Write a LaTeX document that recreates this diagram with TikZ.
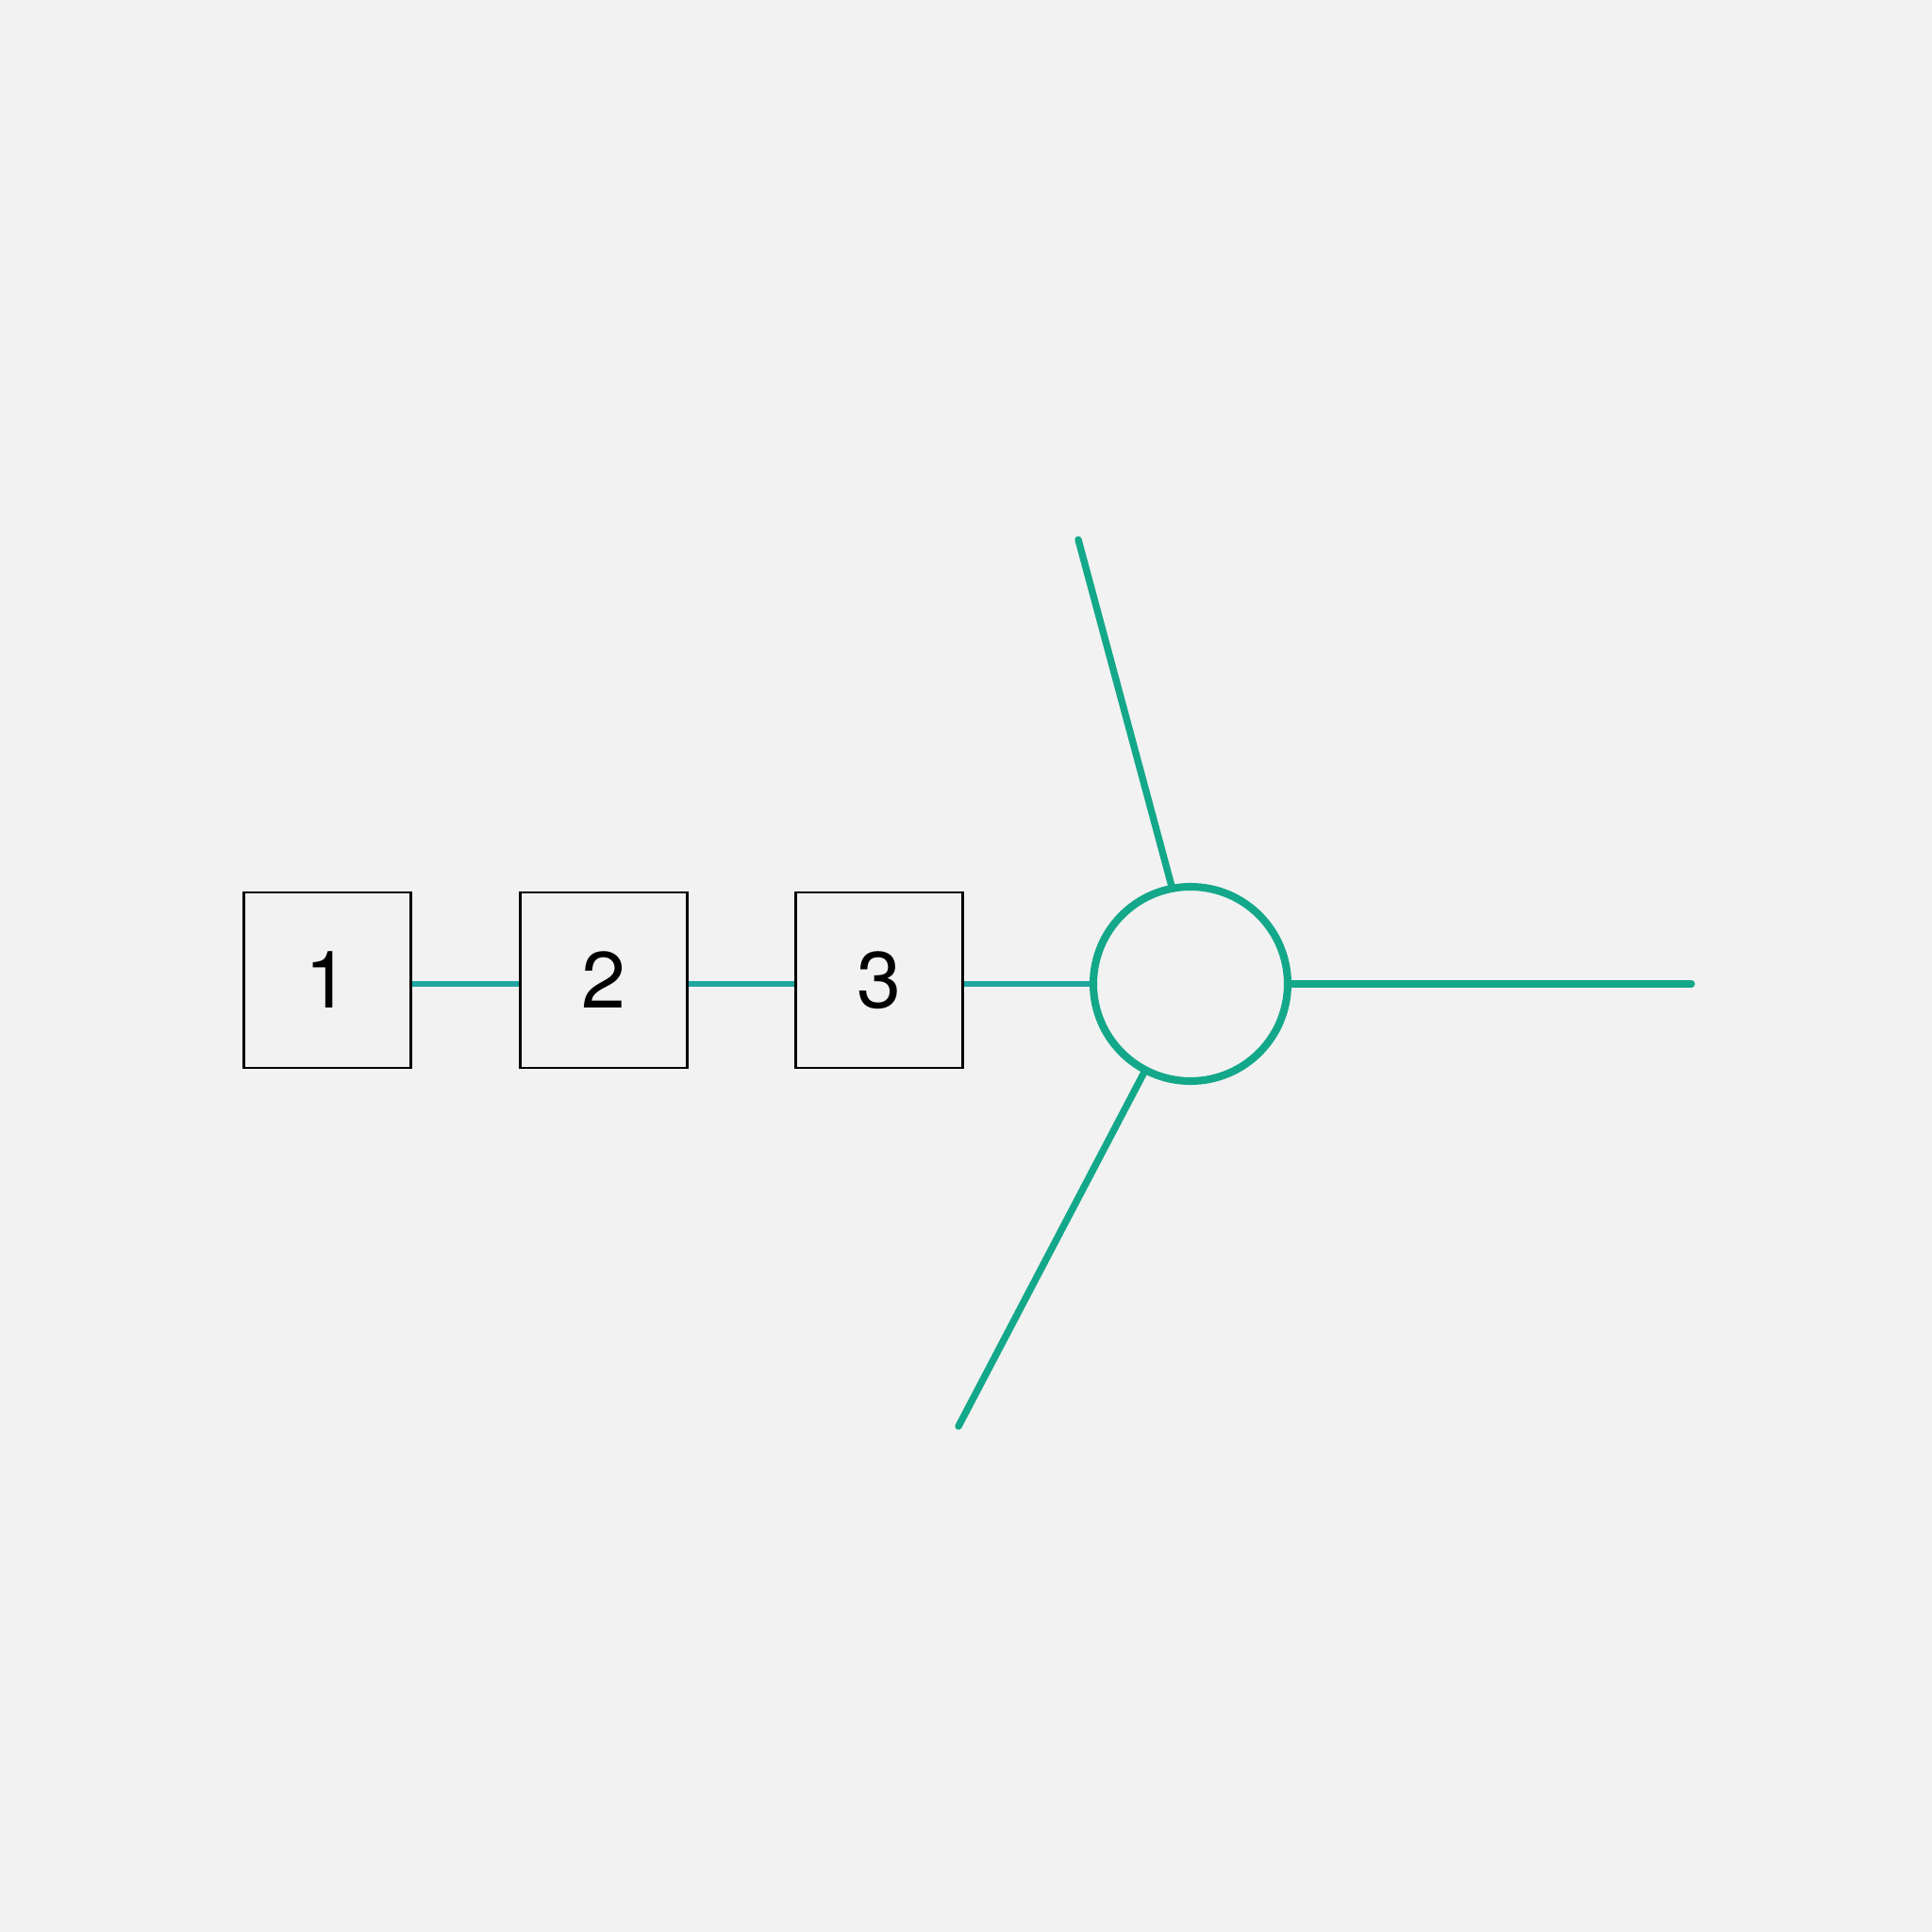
\documentclass[tikz,border=0pt]{standalone}
\usepackage{fontspec}
\setmainfont{TeX Gyre Heros}
\definecolor{bgc}{HTML}{F2F2F3}
\definecolor{teal1}{HTML}{14A88A}
\definecolor{teal2}{HTML}{1FA6A0}
\begin{document}
\begin{tikzpicture}[
  box/.style={draw=black, line width=0.85pt, fill=bgc, minimum width=1.77cm, minimum height=1.86cm, inner sep=0pt, font=\fontsize{24}{28}\selectfont},
  hub/.style={circle, draw=teal1, line width=2.3pt, minimum size=2.06cm, inner sep=0pt},
  link/.style={draw=teal2, line width=1.9pt},
  spoke/.style={draw=teal1, line width=2.1pt, line cap=round}
]
\fill[bgc] (0,0) rectangle (20.48,20.48);
\useasboundingbox (0,0) rectangle (20.48,20.48);
\node[box] (b1) at (3.47,10.09) {1};
\node[box] (b2) at (6.40,10.09) {2};
\node[box] (b3) at (9.32,10.09) {3};
\node[hub] (c) at (12.62,10.05) {};
\coordinate (top) at (11.43,14.76);
\coordinate (bot) at (10.16,5.36);
\coordinate (rgt) at (17.93,10.05);
\draw[link] (b1.east |- c) -- (b2.west |- c);
\draw[link] (b2.east |- c) -- (b3.west |- c);
\draw[link] (b3.east |- c) -- (c);
\draw[spoke] (top) -- (c.101);
\draw[spoke] (bot) -- (c);
\draw[spoke] (c.east) -- (rgt);
\end{tikzpicture}
\end{document}
